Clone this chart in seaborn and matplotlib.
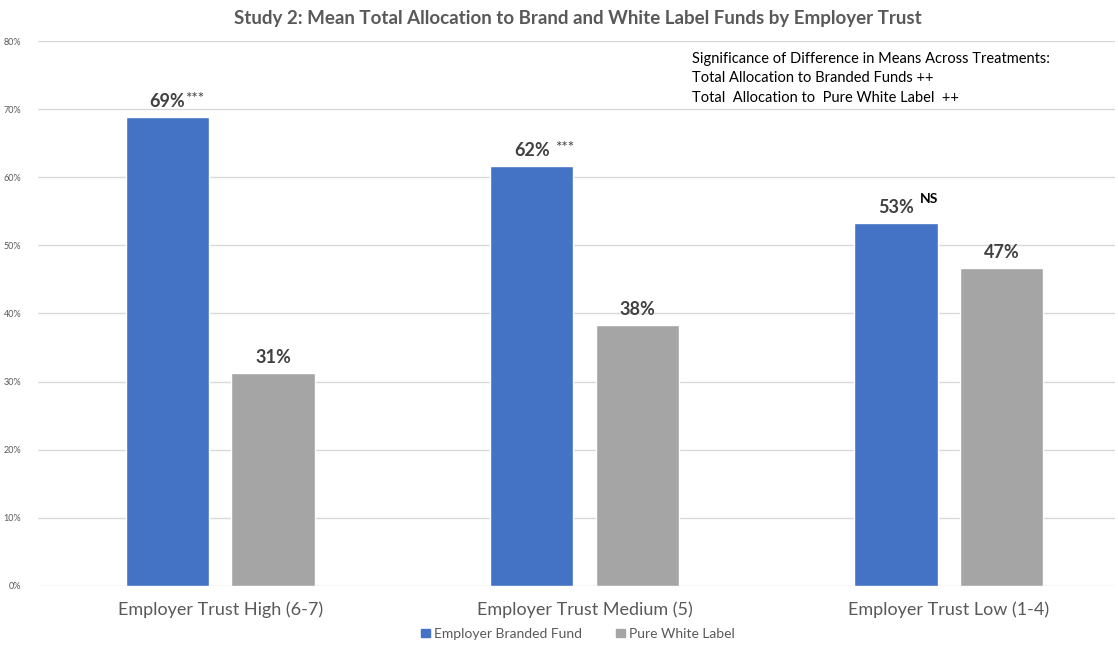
import pandas as pd
import seaborn as sns
import matplotlib.pyplot as plt
from matplotlib.ticker import PercentFormatter

# Data (percent)
categories = ['Employer Trust High (6-7)', 'Employer Trust Medium (5)', 'Employer Trust Low (1-4)']
branded = [68.8, 61.7, 53.3]
white_label = [31.2, 38.3, 46.7]
branded_labels = ['69%', '62%', '53%']
white_labels = ['31%', '38%', '47%']
sig_marks = ['***', '***', 'NS']
series = ['Employer Branded Fund', 'Pure White Label']

df = pd.DataFrame({
    'Trust': categories * 2,
    'Allocation': branded + white_label,
    'Fund': [series[0]] * 3 + [series[1]] * 3,
})

sns.set_style('white')
plt.rcParams['font.family'] = ['Lato', 'DejaVu Sans']

fig = plt.figure(figsize=(11.18, 6.46), dpi=100)
ax = fig.add_axes([0.034, 0.093, 0.963, 0.8435])

sns.barplot(data=df, x='Trust', y='Allocation', hue='Fund',
            palette=['#4472C4', '#A5A5A5'], saturation=1, width=0.58, gap=0.21,
            ax=ax, legend=False)

ax.set_ylim(0, 80)
ax.set_xlim(-0.5, 2.455)
ax.set_yticks(range(0, 81, 10))
ax.yaxis.set_major_formatter(PercentFormatter(decimals=0))
ax.grid(axis='y', color='#d9d9d9', linewidth=1)
ax.set_axisbelow(True)
for s in ax.spines.values():
    s.set_visible(False)
ax.tick_params(axis='y', labelsize=6.5, labelcolor='#595959', length=0, pad=12)
ax.tick_params(axis='x', labelsize=13, labelcolor='#595959', length=0, pad=11)
ax.set_xlabel('')
ax.set_ylabel('')

# value labels
blue_bars = ax.containers[0]
gray_bars = ax.containers[1]
star_dx = [13, 17, 0]
for bar, txt, mark, dx in zip(blue_bars, branded_labels, sig_marks, star_dx):
    cx = bar.get_x() + bar.get_width() / 2
    h = bar.get_height()
    ax.annotate(txt, (cx, h), xytext=(0, 5), textcoords='offset points',
                ha='center', va='bottom', fontsize=13, fontweight='bold', color='#404040')
    if mark == 'NS':
        ax.annotate(mark, (cx, h), xytext=(17, 13), textcoords='offset points',
                    ha='left', va='bottom', fontsize=10, fontweight='bold', color='black')
    else:
        ax.annotate(mark, (cx, h), xytext=(dx, 8), textcoords='offset points',
                    ha='left', va='bottom', fontsize=11, color='#404040')
for bar, txt in zip(gray_bars, white_labels):
    ax.annotate(txt, (bar.get_x() + bar.get_width() / 2, bar.get_height()),
                xytext=(0, 5), textcoords='offset points',
                ha='center', va='bottom', fontsize=13, fontweight='bold', color='#404040')

# significance note
fig.text(0.619, 0.92,
         'Significance of Difference in Means Across Treatments:\n'
         'Total Allocation to Branded Funds ++\n'
         'Total  Allocation to  Pure White Label  ++',
         ha='left', va='top', fontsize=10.5, color='black', linespacing=1.5)

fig.suptitle('Study 2: Mean Total Allocation to Brand and White Label Funds by Employer Trust',
             x=0.517, y=0.985, fontsize=13.5, fontweight='bold', color='#595959')

handles = [plt.Rectangle((0, 0), 1, 1, color=c) for c in ['#4472C4', '#A5A5A5']]
fig.legend(handles, series, loc='lower center', bbox_to_anchor=(0.517, -0.01), ncol=2,
           frameon=False, fontsize=10, labelcolor='#595959',
           handlelength=0.6, handleheight=0.6, handletextpad=0.3, columnspacing=2.5)

plt.savefig('out.png', dpi=100)
